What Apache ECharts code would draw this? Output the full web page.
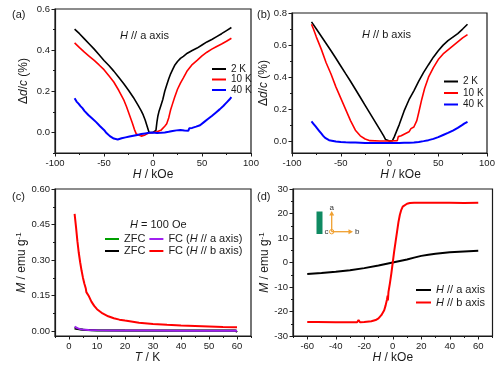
<!DOCTYPE html>
<html><head><meta charset="utf-8">
<script src="https://cdn.jsdelivr.net/npm/echarts@6/dist/echarts.min.js"></script>
<style>html,body{margin:0;padding:0;background:#fff}#c{width:500px;height:367px}</style>
</head><body><div id="c"></div>
<script>
// ---------- Panel (a): H // a axis, Δd/c (%) vs H (kOe) ----------
const a2K_H = [-80,-75,-70,-65,-60,-55,-50,-45,-40,-35,-30,-25,-20,-15,-12,-10,-8,-6,-4,-2,0,2,3,4,5,6,8,10,12,14,16,18,20,22,25,28,31,35,40,45,50,55,60,65,70,75,80];
const a2K_V = [0.502,0.48,0.455,0.43,0.405,0.378,0.35,0.325,0.298,0.268,0.238,0.205,0.17,0.13,0.105,0.085,0.06,0.03,0.0,0.0,0.0,0.003,0.01,0.05,0.08,0.1,0.13,0.16,0.2,0.23,0.26,0.285,0.305,0.325,0.345,0.36,0.37,0.385,0.398,0.41,0.425,0.44,0.452,0.466,0.48,0.495,0.51];
const a10K_H = [-80,-75,-70,-65,-60,-55,-50,-45,-40,-35,-30,-27,-24,-21,-19,-17,-15,-12,-10,-8,-6,-4,-2,0,2,4,6,8,10,12,14,15,16,17,18,20,22,25,28,31,35,40,45,50,55,60,65,70,75,80];
const a10K_V = [0.435,0.412,0.39,0.37,0.35,0.328,0.305,0.275,0.245,0.205,0.16,0.125,0.085,0.045,0.015,-0.008,-0.015,-0.018,-0.017,-0.012,-0.006,-0.002,0.0,0.0,0.002,0.003,0.005,0.01,0.018,0.03,0.042,0.05,0.07,0.09,0.11,0.14,0.17,0.21,0.24,0.265,0.3,0.33,0.35,0.372,0.39,0.405,0.418,0.43,0.443,0.458];
const a40K_H = [-80,-78,-76,-74,-72,-70,-68,-66,-64,-62,-60,-58,-56,-54,-52,-50,-48,-46,-44,-42,-40,-38,-36,-34,-32,-30,-28,-26,-24,-22,-20,-18,-16,-14,-12,-10,-8,-6,-4,-2,0,2,4,6,8,10,12,14,16,18,20,22,24,26,28,30,32,34,36,37,38,40,42,44,46,48,50,52,54,56,58,60,62,64,66,68,70,72,74,76,78,80];
const a40K_V = [0.166,0.15,0.14,0.128,0.118,0.105,0.098,0.085,0.078,0.068,0.06,0.05,0.043,0.03,0.022,0.012,0.0,-0.008,-0.018,-0.025,-0.03,-0.032,-0.034,-0.03,-0.028,-0.026,-0.024,-0.022,-0.02,-0.019,-0.016,-0.014,-0.012,-0.01,-0.008,-0.007,-0.005,-0.003,-0.002,0.0,0.0,-0.002,-0.003,-0.004,-0.002,0.0,0.0,0.002,0.003,0.005,0.007,0.008,0.01,0.01,0.012,0.01,0.009,0.008,0.008,0.02,0.022,0.022,0.025,0.028,0.03,0.035,0.042,0.05,0.058,0.065,0.073,0.08,0.088,0.096,0.104,0.112,0.12,0.13,0.14,0.15,0.16,0.172];
const aXTicks = [-100,-50,0,50,100];
const aXMinor = [-75,-25,25,75];
const aYTicks = [0.0,0.2,0.4,0.6];
const aYMinor = [-0.1,0.1,0.3,0.5];

// ---------- Panel (b): H // b axis ----------
const b2K_H = [-80,-75,-70,-65,-60,-55,-50,-45,-40,-35,-30,-25,-20,-15,-10,-6,-4,-2,0,2,3,5,8,10,15,20,25,30,35,40,45,50,55,60,65,70,75,80];
const b2K_V = [0.745,0.7,0.655,0.61,0.565,0.518,0.47,0.422,0.375,0.325,0.275,0.225,0.175,0.125,0.075,0.035,0.012,0.004,0.003,0.003,0.005,0.03,0.075,0.105,0.19,0.26,0.315,0.375,0.43,0.478,0.525,0.565,0.6,0.628,0.65,0.672,0.7,0.73];
const b10K_H = [-80,-78,-75,-70,-65,-60,-55,-50,-45,-40,-35,-30,-25,-20,-10,0,8,9,12,15,20,22,24,25,28,30,33,36,40,45,50,55,60,65,70,75,80];
const b10K_V = [0.73,0.7,0.65,0.575,0.49,0.42,0.34,0.27,0.2,0.13,0.07,0.035,0.015,0.005,0.003,0.003,0.005,0.03,0.035,0.045,0.06,0.08,0.07,0.09,0.13,0.18,0.26,0.33,0.4,0.46,0.51,0.545,0.57,0.595,0.62,0.645,0.665];
const b40K_H = [-80,-78,-76,-74,-72,-70,-68,-66,-64,-62,-60,-55,-50,-45,-40,-35,-30,-25,-20,-15,-10,-5,0,5,10,15,20,25,30,35,40,45,50,55,60,65,70,74,77,80];
const b40K_V = [0.125,0.11,0.095,0.08,0.065,0.05,0.035,0.022,0.014,0.008,0.004,0.0,-0.003,-0.005,-0.006,-0.007,-0.008,-0.009,-0.009,-0.01,-0.01,-0.01,-0.01,-0.01,-0.009,-0.008,-0.008,-0.006,-0.003,0.002,0.008,0.016,0.027,0.04,0.053,0.068,0.085,0.1,0.112,0.122];
const bXTicks = [-100,-50,0,50,100];
const bXMinor = [-75,-25,25,75];
const bYTicks = [0.0,0.2,0.4,0.6,0.8];
const bYMinor = [0.1,0.3,0.5,0.7];

// ---------- Panel (c): M vs T, H = 100 Oe ----------
const cZFCa_T = [2,3,4,6,10,20,40,60];
const cZFCa_V = [0.017,0.011,0.008,0.005,0.0035,0.003,0.0025,0.0025];
const cFCa_T = [2,2.5,3,3.5,4,5,6,7,8,10,15,20,30,40,50,60];
const cFCa_V = [0.019,0.016,0.013,0.011,0.009,0.007,0.006,0.005,0.0045,0.004,0.0035,0.003,0.003,0.0025,0.0025,0.0025];
const cZFCb_T = [2,3,5,10,20,40,59.5,60];
const cZFCb_V = [0.012,0.009,0.006,0.004,0.003,0.003,0.003,-0.004];
const cFCb_T = [2,2.5,3,3.5,4,4.5,5,5.5,6,6.2,6.5,7,8,9,10,12,14,16,18,20,25,30,35,40,45,50,55,60];
const cFCb_V = [0.495,0.44,0.38,0.33,0.29,0.255,0.225,0.2,0.18,0.165,0.162,0.15,0.125,0.107,0.093,0.075,0.063,0.055,0.049,0.045,0.036,0.031,0.027,0.024,0.022,0.02,0.018,0.017];
const cXTicks = [0,10,20,30,40,50,60];
const cXMinor = [-5,5,15,25,35,45,55,65];
const cYTicks = [0.00,0.15,0.30,0.45,0.60];
const cYMinor = [0.075,0.225,0.375,0.525];

// ---------- Panel (d): M vs H ----------
const dA_H = [-60,-50,-40,-30,-20,-10,-5,0,5,10,15,20,25,30,40,50,60];
const dA_V = [-4.7,-4.3,-3.8,-3.2,-2.3,-1.2,-0.6,0,0.6,1.2,2.0,2.7,3.2,3.6,4.2,4.5,4.8];
const dB_H = [-60,-55,-54,-53,-40,-30,-25,-24,-23,-20,-15,-12,-10,-8,-6,-5,-4,-3.6,-3.4,-3,-2,-1,0,1,2,3,4,5,6,7,8,10,12,15,20,30,40,50,60];
const dB_V = [-24.3,-24.3,-23.5,-24.3,-24.4,-24.4,-24.4,-23.5,-24.4,-24.3,-24.0,-23.5,-22.8,-21.5,-19.5,-17.5,-15,-13.5,-15.5,-12,-8.5,-4.5,0,4.5,8.5,12.5,16.5,19.5,21.5,22.8,23.5,24.0,24.3,24.4,24.4,24.4,24.4,24.3,24.4];
const dXTicks = [-60,-40,-20,0,20,40,60];
const dXMinor = [-70,-50,-30,-10,10,30,50,70];
const dYTicks = [-30,-20,-10,0,10,20,30];
const dYMinor = [-25,-15,-5,5,15,25];

// ---------------------------------------------------------------
const FONT = 'Liberation Sans, Arial, sans-serif';
const INK = '#1a1a1a';
const RICH = {
  n: {fontFamily: FONT, fontSize: 12, color: INK},
  i: {fontFamily: FONT, fontSize: 12, color: INK, fontStyle: 'italic'},
  s: {fontFamily: FONT, fontSize: 8, color: INK, verticalAlign: 'top', lineHeight: 14}
};
const RICH11 = {
  n: {fontFamily: FONT, fontSize: 11, color: INK},
  i: {fontFamily: FONT, fontSize: 11, color: INK, fontStyle: 'italic'}
};
const zip = (xs, ys) => xs.map((x, k) => [x, ys[k]]);

const grids = [
  {left: 55, top: 9, width: 196, height: 144},
  {left: 292, top: 13, width: 195, height: 140},
  {left: 55, top: 189, width: 196, height: 147},
  {left: 293, top: 189, width: 199.5, height: 147}
].map(g => Object.assign(g, {show: true, borderColor: INK, borderWidth: 1.2, containLabel: false}));

const xAxis = [], yAxis = [];
function addAxes(list, g, dim, o) {
  list.push({
    type: 'value', gridIndex: g, min: o.min, max: o.max,
    position: dim === 'x' ? 'bottom' : 'left',
    axisLine: {show: true, onZero: false, lineStyle: {color: INK, width: 1.2}},
    axisTick: {show: true, inside: false, length: 3.5, customValues: o.major, lineStyle: {color: INK, width: 1}},
    axisLabel: {show: true, customValues: o.major, formatter: v => v.toFixed(o.dec), fontSize: 9.5, color: INK, fontFamily: FONT, margin: o.margin},
    splitLine: {show: false},
    name: o.name, nameLocation: 'middle', nameGap: o.gap,
    nameTextStyle: {rich: RICH, padding: o.pad || 0}
  });
  list.push({
    type: 'value', gridIndex: g, min: o.min, max: o.max,
    position: dim === 'x' ? 'bottom' : 'left',
    axisLine: {show: false, onZero: false},
    axisTick: {show: true, inside: false, length: 2, customValues: o.minor, lineStyle: {color: INK, width: 1}},
    axisLabel: {show: false}, splitLine: {show: false}
  });
}
const HkOe = '{i|H}{n| / kOe}';
const dc = '{n|Δ}{i|d}{n|/}{i|c}{n| (%)}';
const Memu = '{i|M}{n| / emu g}{s|-1}';
addAxes(xAxis, 0, 'x', {min: -100, max: 100, major: aXTicks, minor: aXMinor, dec: 0, name: HkOe, gap: 12, margin: 5});
addAxes(yAxis, 0, 'y', {min: -0.1, max: 0.6, major: aYTicks, minor: aYMinor, dec: 1, name: dc, gap: 25, margin: 5});
addAxes(xAxis, 1, 'x', {min: -100, max: 100, major: bXTicks, minor: bXMinor, dec: 0, name: HkOe, gap: 12, margin: 5, pad: [0, 0, 0, 22]});
addAxes(yAxis, 1, 'y', {min: -0.072, max: 0.8, major: bYTicks, minor: bYMinor, dec: 1, name: dc, gap: 18, margin: 5});
addAxes(xAxis, 2, 'x', {min: -5, max: 65, major: cXTicks, minor: cXMinor, dec: 0, name: '{i|T}{n| / K}', gap: 13, margin: 5, pad: [0, 11, 0, 0]});
addAxes(yAxis, 2, 'y', {min: -0.02, max: 0.6, major: cYTicks, minor: cYMinor, dec: 2, name: Memu, gap: 23, margin: 5});
addAxes(xAxis, 3, 'x', {min: -70, max: 70, major: dXTicks, minor: dXMinor, dec: 0, name: HkOe, gap: 10, margin: 5});
addAxes(yAxis, 3, 'y', {min: -30, max: 30, major: dYTicks, minor: dYMinor, dec: 0, name: Memu, gap: 19, margin: 5});

function line(name, g, xs, ys, color, w) {
  return {
    name, type: 'line', xAxisIndex: 2 * g, yAxisIndex: 2 * g,
    data: zip(xs, ys), showSymbol: false, symbol: 'none',
    lineStyle: {color, width: w}, itemStyle: {color},
    animation: false, clip: true
  };
}
const BLACK = '#000000', RED = '#ff0000', BLUE = '#0000ff', PURPLE = '#a020f0', GREEN = '#00a000';
const series = [
  line('a|2 K', 0, a2K_H, a2K_V, BLACK, 1.6),
  line('a|10 K', 0, a10K_H, a10K_V, RED, 1.6),
  line('a|40 K', 0, a40K_H, a40K_V, BLUE, 2),
  line('b|2 K', 1, b2K_H, b2K_V, BLACK, 1.6),
  line('b|10 K', 1, b10K_H, b10K_V, RED, 1.6),
  line('b|40 K', 1, b40K_H, b40K_V, BLUE, 2),
  line('c|ZFCa', 2, cZFCa_T, cZFCa_V, GREEN, 2),
  line('c|ZFCb', 2, cZFCb_T, cZFCb_V, BLACK, 2),
  line('c|FCa', 2, cFCa_T, cFCa_V, PURPLE, 2),
  line('c|FCb', 2, cFCb_T, cFCb_V, RED, 2),
  line('d|a', 3, dA_H, dA_V, BLACK, 2),
  line('d|b', 3, dB_H, dB_V, RED, 2)
];

const legendLabels = {
  'a|2 K': '2 K', 'a|10 K': '10 K', 'a|40 K': '40 K',
  'b|2 K': '2 K', 'b|10 K': '10 K', 'b|40 K': '40 K',
  'c|ZFCa': '{n|ZFC}', 'c|FCa': '{n|FC (}{i|H}{n| // a axis)}',
  'c|ZFCb': '{n|ZFC}', 'c|FCb': '{n|FC (}{i|H}{n| // b axis)}',
  'd|a': '{i|H}{n| // a axis}', 'd|b': '{i|H}{n| // b axis}'
};
const legBase = {selectedMode: false, icon: 'rect', itemHeight: 2, padding: 0, formatter: n => legendLabels[n]};
const legend = [
  Object.assign({}, legBase, {left: 212, top: 64, orient: 'vertical', itemWidth: 14, itemGap: 0.5,
    data: ['a|2 K', 'a|10 K', 'a|40 K'], textStyle: {fontSize: 10, lineHeight: 10, color: INK, fontFamily: FONT}}),
  Object.assign({}, legBase, {left: 444, top: 76.5, orient: 'vertical', itemWidth: 14, itemGap: 1.5,
    data: ['b|2 K', 'b|10 K', 'b|40 K'], textStyle: {fontSize: 10, lineHeight: 10, color: INK, fontFamily: FONT}}),
  Object.assign({}, legBase, {left: 105, top: 233, orient: 'horizontal', itemWidth: 14, itemGap: 4,
    data: ['c|ZFCa', 'c|FCa'], textStyle: {rich: RICH11, lineHeight: 12}}),
  Object.assign({}, legBase, {left: 105, top: 245, orient: 'horizontal', itemWidth: 14, itemGap: 4,
    data: ['c|ZFCb', 'c|FCb'], textStyle: {rich: RICH11, lineHeight: 12}}),
  Object.assign({}, legBase, {left: 416, top: 284, orient: 'vertical', itemWidth: 15, itemGap: 0.5,
    data: ['d|a', 'd|b'], textStyle: {rich: RICH11, lineHeight: 12}})
];

const ttl = (text, left, top, rich) => ({text, left, top, padding: 0,
  textStyle: {fontSize: 11, fontWeight: 'normal', color: INK, fontFamily: FONT, rich: rich || RICH11}});
const title = [
  ttl('(a)', 12, 9), ttl('(b)', 257, 9), ttl('(c)', 12, 191), ttl('(d)', 257, 191),
  ttl('{i|H}{n| // a axis}', 120, 30), ttl('{i|H}{n| // b axis}', 362, 29),
  ttl('{i|H}{n| = 100 Oe}', 130, 219)
];

const ORANGE = '#f0a030';
const graphic = [
  {type: 'rect', shape: {x: 316.5, y: 211.5, width: 6, height: 22.5}, style: {fill: '#0f8a62'}},
  {type: 'line', shape: {x1: 331.7, y1: 231.7, x2: 331.7, y2: 214}, style: {stroke: ORANGE, lineWidth: 1.3}},
  {type: 'polygon', shape: {points: [[329.2, 215.5], [334.2, 215.5], [331.7, 211]]}, style: {fill: ORANGE}},
  {type: 'line', shape: {x1: 331.7, y1: 231.7, x2: 350, y2: 231.7}, style: {stroke: ORANGE, lineWidth: 1.3}},
  {type: 'polygon', shape: {points: [[348.5, 229.2], [348.5, 234.2], [353, 231.7]]}, style: {fill: ORANGE}},
  {type: 'circle', shape: {cx: 331.7, cy: 231.7, r: 2.2}, style: {fill: 'none', stroke: ORANGE, lineWidth: 1}},
  {type: 'text', x: 331.7, y: 208, style: {text: 'a', fontSize: 8, fontFamily: FONT, fill: '#333', align: 'center', verticalAlign: 'middle'}},
  {type: 'text', x: 355, y: 232, style: {text: 'b', fontSize: 8, fontFamily: FONT, fill: '#333', align: 'left', verticalAlign: 'middle'}},
  {type: 'text', x: 328.5, y: 232, style: {text: 'c', fontSize: 8, fontFamily: FONT, fill: '#333', align: 'right', verticalAlign: 'middle'}}
];

const chart = echarts.init(document.getElementById('c'), null, {renderer: 'canvas'});
chart.setOption({animation: false, backgroundColor: '#fff', grid: grids, xAxis, yAxis, series, legend, title, graphic});
</script></body></html>
